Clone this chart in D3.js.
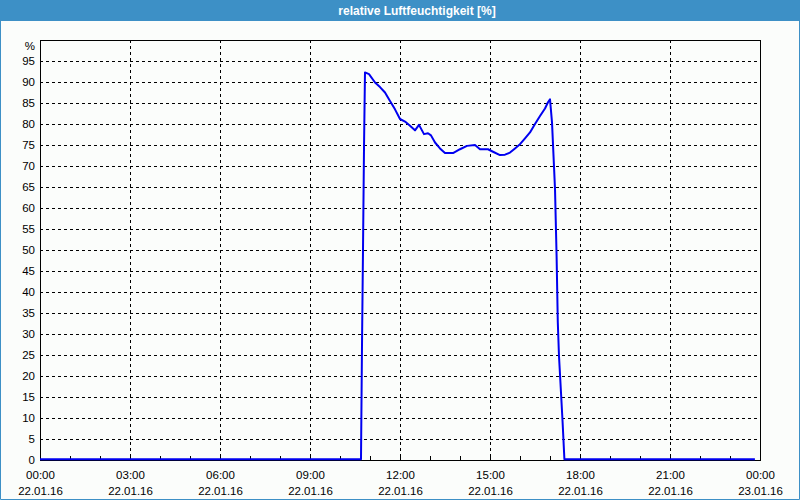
<!DOCTYPE html>
<html><head><meta charset="utf-8">
<script src="https://cdnjs.cloudflare.com/ajax/libs/d3/7.8.5/d3.min.js"></script>
<style>html,body{margin:0;padding:0;background:#fbfdfb;}svg{display:block;}</style>
</head><body><svg id="c" width="800" height="500"></svg>
<script>
const title = "relative Luftfeuchtigkeit [%]";
const unitLabel = "%";
// hours since 22.01.16 00:00
const hours = [0, 10.70, 10.733, 10.767, 10.80, 10.833, 10.967, 11.167, 11.333, 11.5, 11.667, 11.833, 12.0, 12.167, 12.333, 12.5, 12.633, 12.8, 12.933, 13.033, 13.167, 13.333, 13.5, 13.767, 14.0, 14.233, 14.5, 14.667, 14.933, 15.1, 15.333, 15.5, 15.667, 15.833, 16.0, 16.167, 16.333, 16.5, 16.667, 16.833, 16.933, 17.0, 17.067, 17.167, 17.22, 17.26, 17.30, 17.36, 17.42, 17.48, 23.83];
const humidity = [0, 0, 27, 50, 74, 92.1, 91.7, 89.7, 88.6, 87.3, 85.3, 83.3, 81.0, 80.4, 79.4, 78.3, 79.6, 77.4, 77.6, 77.1, 75.4, 74.0, 72.9, 72.9, 73.8, 74.6, 74.8, 73.8, 73.8, 73.2, 72.4, 72.5, 73.0, 74.0, 75.0, 76.4, 77.8, 79.8, 81.7, 83.5, 85.0, 85.7, 80.2, 64.3, 48.3, 32.6, 24.5, 16.7, 8.8, 0, 0];
const xTickHours = [0, 3, 6, 9, 12, 15, 18, 21, 24];
const xTickTimes = ["00:00", "03:00", "06:00", "09:00", "12:00", "15:00", "18:00", "21:00", "00:00"];
const xTickDates = ["22.01.16", "22.01.16", "22.01.16", "22.01.16", "22.01.16", "22.01.16", "22.01.16", "22.01.16", "23.01.16"];
const yTicks = [0, 5, 10, 15, 20, 25, 30, 35, 40, 45, 50, 55, 60, 65, 70, 75, 80, 85, 90, 95];
const minorHours = d3.range(1, 24);

const svg = d3.select("#c");
const W = 800, H = 500;
const m = {l: 40, r: 40, t: 40, b: 40};
const x = d3.scaleLinear().domain([0, 24]).range([m.l, W - m.r]);
const y = d3.scaleLinear().domain([0, 100]).range([H - m.b, m.t]);
const font = "'Liberation Sans', Arial, sans-serif";

svg.append("rect").attr("x", 0).attr("y", 0).attr("width", W).attr("height", H).attr("fill", "#fbfdfb");
// title bar
svg.append("rect").attr("x", 0).attr("y", 0).attr("width", W).attr("height", 21).attr("fill", "#3d90c6");
svg.append("text").attr("x", 417).attr("y", 11).attr("text-anchor", "middle").attr("dominant-baseline", "central")
  .attr("font-family", font).attr("font-weight", "bold").attr("font-size", 12).attr("fill", "#ffffff").text(title);
// window frame
svg.append("path").attr("d", `M0.5,21 V499.5 H799.5 V21`).attr("fill", "none").attr("stroke", "#3d90c6").attr("stroke-width", 1);

// grid
const g = svg.append("g");
g.selectAll("line.hg").data(yTicks.filter(d => d > 0)).enter().append("line")
  .attr("x1", m.l).attr("x2", W - m.r).attr("y1", d => Math.round(y(d)) + 0.5).attr("y2", d => Math.round(y(d)) + 0.5)
  .attr("stroke", "#000").attr("stroke-width", 1).attr("stroke-dasharray", "3,3");
g.selectAll("line.vg").data(xTickHours.filter(d => d > 0 && d < 24)).enter().append("line")
  .attr("y1", m.t).attr("y2", H - m.b).attr("x1", d => Math.round(x(d)) + 0.5).attr("x2", d => Math.round(x(d)) + 0.5)
  .attr("stroke", "#000").attr("stroke-width", 1).attr("stroke-dasharray", "3,3");
// minor ticks
g.selectAll("line.mt").data(minorHours).enter().append("line")
  .attr("x1", d => Math.round(x(d)) + 0.5).attr("x2", d => Math.round(x(d)) + 0.5)
  .attr("y1", H - m.b).attr("y2", H - m.b - 4).attr("stroke", "#000");

// frame
svg.append("rect").attr("x", m.l + 0.5).attr("y", m.t + 0.5).attr("width", W - m.l - m.r).attr("height", H - m.t - m.b)
  .attr("fill", "none").attr("stroke", "#000").attr("stroke-width", 1);

// y labels
const yAxis = d3.axisLeft(y).tickValues(yTicks).tickSize(0).tickPadding(5);
const ya = svg.append("g").attr("transform", `translate(${m.l},0)`).call(yAxis);
ya.select(".domain").remove();
ya.selectAll("text").attr("font-family", font).attr("font-size", 11.5).attr("fill", "#000");
svg.append("text").attr("x", 35).attr("y", 46).attr("text-anchor", "end").attr("dominant-baseline", "central")
  .attr("font-family", font).attr("font-size", 11.5).attr("fill", "#000").text(unitLabel);

// x labels
const xAxis = d3.axisBottom(x).tickValues(xTickHours).tickSize(0).tickPadding(0).tickFormat(() => "");
const xa = svg.append("g").attr("transform", `translate(0,${H - m.b})`).call(xAxis);
xa.select(".domain").remove();
xa.selectAll(".tick text").each(function(d, i) {
  const t = d3.select(this).attr("y", 0).attr("dy", null).attr("font-family", font).attr("font-size", 11.5).attr("fill", "#000");
  t.append("tspan").attr("x", 0).attr("y", 19).text(xTickTimes[i]);
  t.append("tspan").attr("x", 0).attr("y", 35).text(xTickDates[i]);
});

// line
const data = hours.map((h, i) => ({h, v: humidity[i]}));
svg.append("path").datum(data)
  .attr("d", d3.line().x(d => x(d.h)).y(d => y(d.v) - 0.8))
  .attr("fill", "none").attr("stroke", "#0000f0").attr("stroke-width", 2).attr("stroke-linejoin", "round");
</script></body></html>
